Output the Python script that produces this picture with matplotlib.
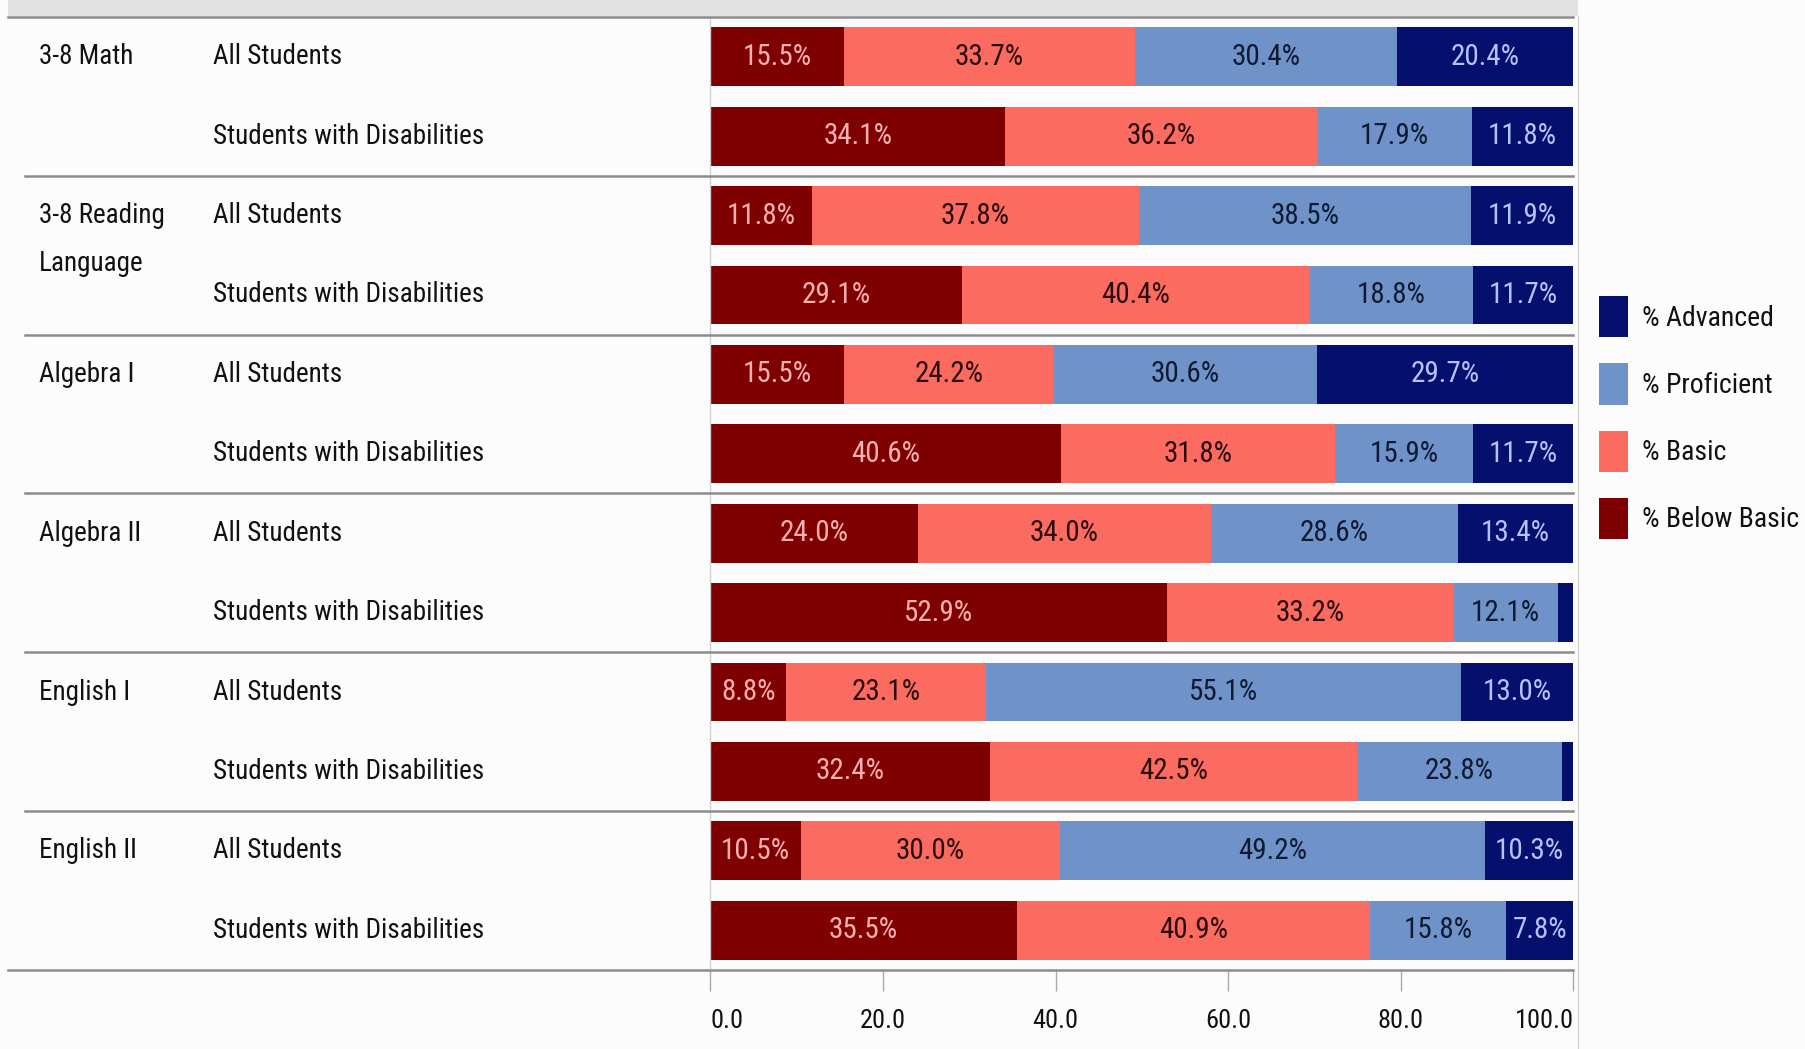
import matplotlib
matplotlib.use("Agg")
import matplotlib.pyplot as plt
import matplotlib.transforms as mtransforms
import matplotlib.font_manager as fm
from matplotlib.patches import Rectangle
import numpy as np

# the chart uses a narrow sans; take one if the machine has it
narrow = None
cands = []
for e in fm.fontManager.ttflist:
    nm = e.name.lower()
    if e.style != 'normal' or e.weight not in (400, 'normal', 'regular'):
        continue
    if 'narrow' in nm or 'condensed' in nm or str(e.stretch) in ('condensed', 'semi-condensed', 'extra-condensed'):
        cands.append(e)
for pref in ['liberation sans narrow', 'arial narrow', 'roboto condensed', 'noto sans', 'open sans', 'dejavu sans']:
    for e in cands:
        if e.name.lower().startswith(pref):
            narrow = e
            break
    if narrow:
        break
if narrow is None and cands:
    narrow = cands[0]

if narrow is not None:
    plt.rcParams['font.family'] = [narrow.name, 'Liberation Sans', 'DejaVu Sans']
    if str(narrow.stretch) != 'normal':
        plt.rcParams['font.stretch'] = narrow.stretch
    FS, VFS, TFS, LFS = 19.5, 21, 19, 20
else:
    plt.rcParams['font.family'] = ['Liberation Sans', 'DejaVu Sans']
    FS, VFS, TFS, LFS = 17, 17, 16, 16

# data
subjects = ["3-8 Math", "3-8 Reading\nLanguage", "Algebra I", "Algebra II", "English I", "English II"]
groups = ["All Students", "Students with Disabilities"]
levels = ["% Below Basic", "% Basic", "% Proficient", "% Advanced"]

below_basic = [15.5, 34.1, 11.8, 29.1, 15.5, 40.6, 24.0, 52.9, 8.8, 32.4, 10.5, 35.5]
basic = [33.7, 36.2, 37.8, 40.4, 24.2, 31.8, 34.0, 33.2, 23.1, 42.5, 30.0, 40.9]
proficient = [30.4, 17.9, 38.5, 18.8, 30.6, 15.9, 28.6, 12.1, 55.1, 23.8, 49.2, 15.8]
advanced = [20.4, 11.8, 11.9, 11.7, 29.7, 11.7, 13.4, 1.8, 13.0, 1.3, 10.3, 7.8]

xticks = [0, 20, 40, 60, 80, 100]
xtick_labels = ["0.0", "20.0", "40.0", "60.0", "80.0", "100.0"]

bar_colors = ['#7f0000', '#fb6b60', '#6f93c9', '#050f6e']
text_colors = ['#ffb0b0', '#2a0c0c', '#101a33', '#b0c6ff']

W, H = 1806, 1049
fig = plt.figure(figsize=(W / 100, H / 100), dpi=100)
fig.set_facecolor('#fcfcfc')

ax = fig.add_axes([710.5 / W, 1 - 970 / H, 863 / W, 953 / H])
ax.set_facecolor('#fcfcfc')

n = len(below_basic)
y = np.arange(n) + 0.5
series = [below_basic, basic, proficient, advanced]
left = np.zeros(n)
handles = []
for vals, lab, col, tcol in zip(series, levels, bar_colors, text_colors):
    vals = np.array(vals)
    b = ax.barh(y, vals, left=left, height=0.74, color=col, label=lab)
    handles.append(b)
    for yi, l, v in zip(y, left, vals):
        if v >= 5:
            ax.text(l + v / 2, yi, "%.1f%%" % v, ha='center', va='center',
                    fontsize=VFS, color=tcol)
    left = left + vals

ax.set_xlim(0, 100)
ax.set_ylim(n, 0)
ax.set_yticks([])
ax.set_xticks(xticks)
ax.set_xticklabels(xtick_labels)
ax.tick_params(axis='x', length=15, width=1, color='#aaaaaa', pad=13,
               labelsize=TFS, labelcolor='#111111')
tl = ax.get_xticklabels()
tl[0].set_ha('left')
tl[-1].set_ha('right')

for s in ['top', 'right', 'bottom']:
    ax.spines[s].set_visible(False)
ax.spines['left'].set_color('#d0d0d0')
ax.spines['left'].set_linewidth(1)

# row / group labels on the left
trans = mtransforms.blended_transform_factory(fig.transFigure, ax.transData)
for i, subj in enumerate(subjects):
    for k, line in enumerate(subj.split("\n")):
        ax.text(39 / W, 2 * i + 0.5 + 0.6 * k, line, transform=trans,
                ha='left', va='center', fontsize=FS, color='#111111')
    for j, g in enumerate(groups):
        ax.text(213 / W, 2 * i + j + 0.5, g, transform=trans,
                ha='left', va='center', fontsize=FS, color='#111111')

# separators
x_right = (710.5 + 863) / W
for k in range(0, n + 1, 2):
    x0 = 8 / W if k in (0, n) else 25 / W
    ax.plot([x0, x_right], [k, k], transform=trans, clip_on=False,
            color='#8c8c8c', lw=1.8, zorder=5)

# top band and right border
fig.add_artist(Rectangle((8 / W, 1 - 16 / H), 1570 / W, 16 / H,
                         transform=fig.transFigure, facecolor='#e2e2e2',
                         edgecolor='none'))
fig.add_artist(plt.Line2D([1578 / W, 1578 / W], [0, 1 - 16 / H],
                          transform=fig.transFigure, color='#d4d4d4', lw=1))

em = LFS * 100 / 72
leg = ax.legend(handles[::-1], levels[::-1], loc='upper left',
                bbox_to_anchor=(1599 / W, 1 - 296 / H),
                bbox_transform=fig.transFigure, frameon=False, fontsize=LFS,
                handlelength=29 / em, handleheight=53 / em,
                labelspacing=26 / em,
                handletextpad=14 / em, borderpad=0, borderaxespad=0)
for t in leg.get_texts():
    t.set_color('#111111')

fig.savefig("out.png", dpi=100, facecolor=fig.get_facecolor())
